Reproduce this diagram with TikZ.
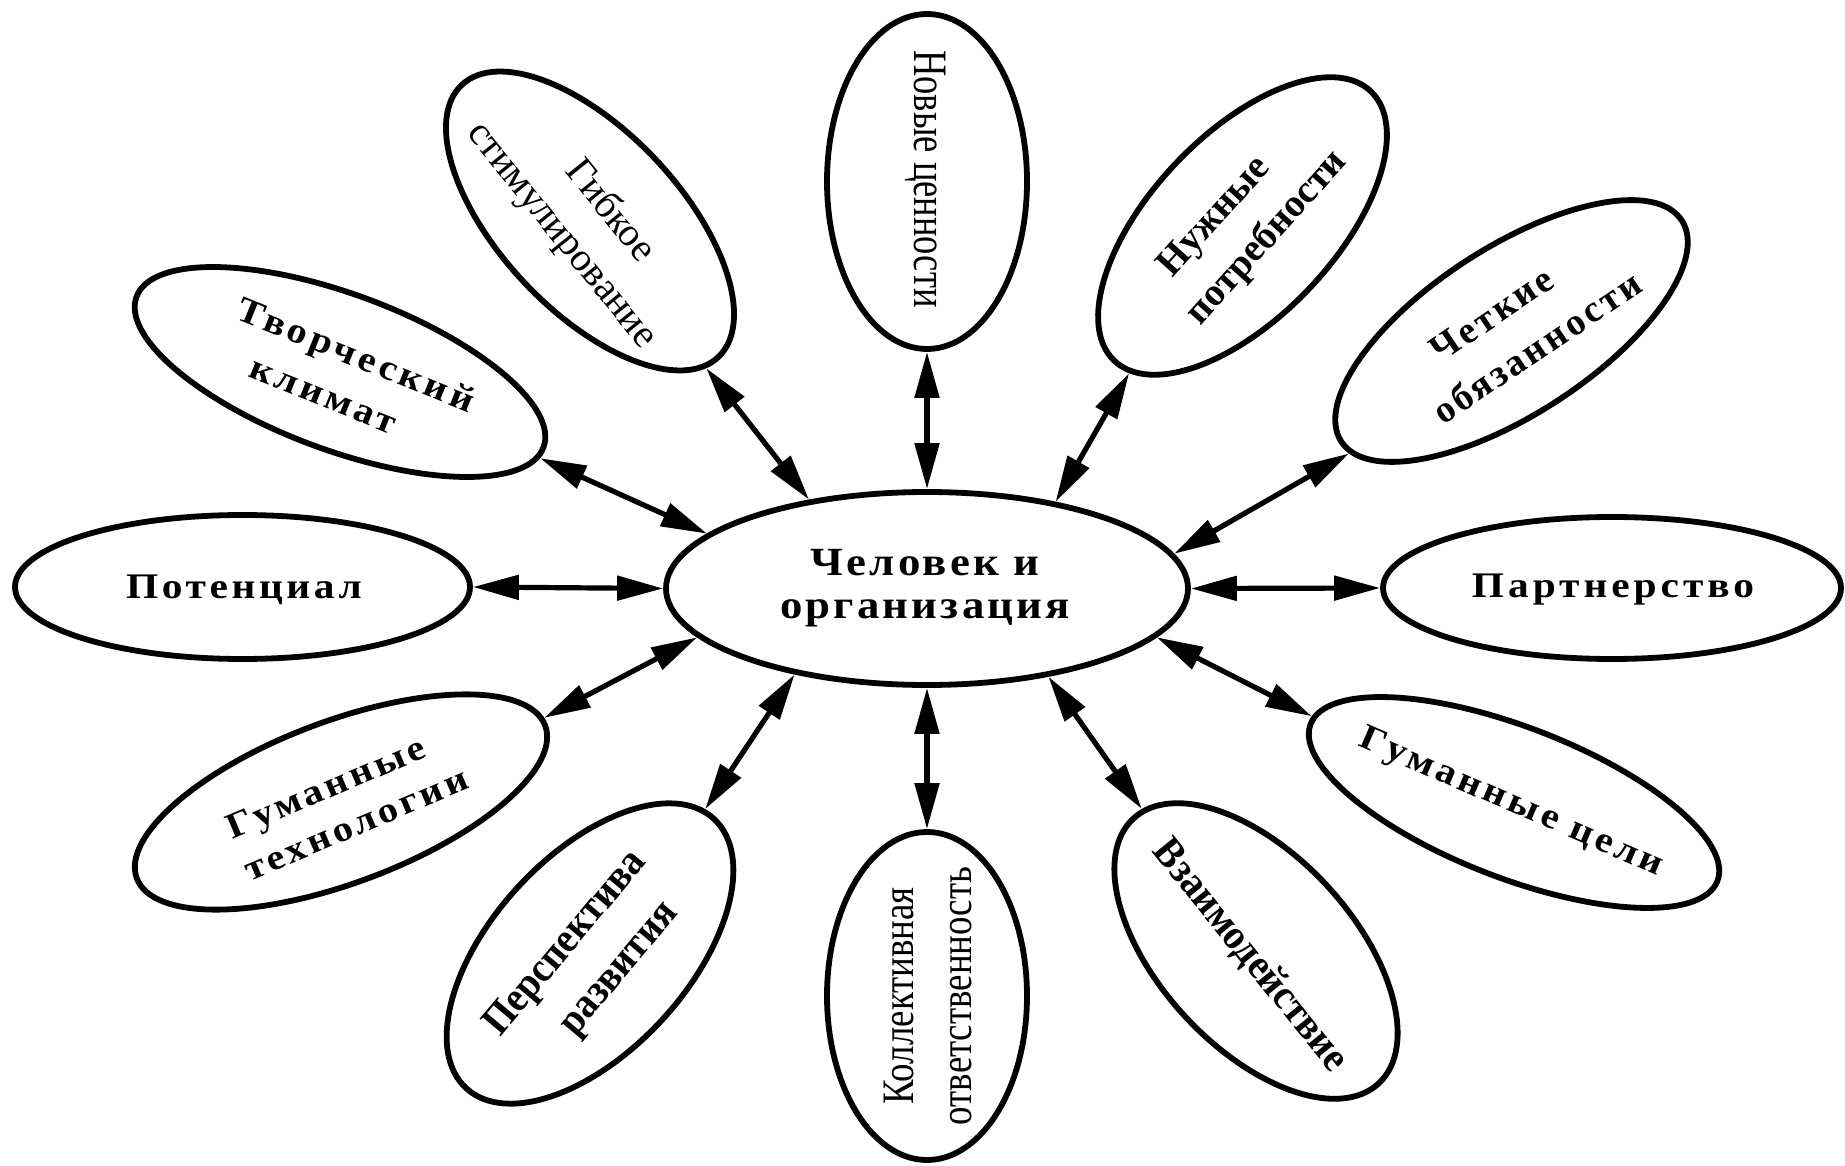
\documentclass[tikz,border=0pt]{standalone}
\usepackage{fontspec}
\setmainfont{Liberation Serif}
\usetikzlibrary{shapes.geometric,arrows.meta}
\begin{document}
\begin{tikzpicture}[x=1pt,y=-1pt,
  el/.style={draw, ellipse, line width=5.8pt, inner sep=0pt},
  lab/.style={inner sep=0pt, align=center, text=black},
  link/.style={line width=5.2pt, {Triangle[length=46pt,width=24pt]}-{Triangle[length=46pt,width=24pt]}}
]
\useasboundingbox (0,0) rectangle (1845,1166);

% shapes
\node[el, minimum width=522pt, minimum height=193pt] (c) at (927,588.5) {};
\node[el, minimum width=455pt, minimum height=144pt] (pot) at (242.5,587) {};
\node[el, minimum width=458pt, minimum height=142pt] (par) at (1612,588) {};
\node[el, minimum width=200pt, minimum height=335pt] (nov) at (927,181.5) {};
\node[el, minimum width=200pt, minimum height=328pt] (kol) at (927,996) {};
\node[el, minimum width=434pt, minimum height=156pt, rotate=-20.3] (tvo) at (340,372) {};
\node[el, minimum width=374pt, minimum height=180pt, rotate=-46.7] (gib) at (590,221) {};
\node[el, minimum width=372pt, minimum height=183pt, rotate=46.4] (nuz) at (1242.5,226) {};
\node[el, minimum width=406pt, minimum height=167pt, rotate=33] (che) at (1511.5,331) {};
\node[el, minimum width=436pt, minimum height=162pt, rotate=20.5] (gtx) at (341,802) {};
\node[el, minimum width=366pt, minimum height=196pt, rotate=47.4] (per) at (590,953.5) {};
\node[el, minimum width=361pt, minimum height=193pt, rotate=-47.2] (vza) at (1256,951) {};
\node[el, minimum width=436pt, minimum height=151pt, rotate=-21.1] (gc) at (1514,802.5) {};

% texts
\node[lab, font=\fontsize{40}{43}\selectfont\bfseries\addfontfeatures{FakeStretch=1.12,LetterSpace=8}] (cT) at (925,588) {Человек и\\организация};
\node[lab, font=\fontsize{36}{40}\selectfont\bfseries\addfontfeatures{FakeStretch=1.15,LetterSpace=10}] (potT) at (244,590) {Потенциал};
\node[lab, font=\fontsize{36}{40}\selectfont\bfseries\addfontfeatures{FakeStretch=1.15,LetterSpace=11}] (parT) at (1613,590) {Партнерство};
\node[lab, rotate=-90, font=\fontsize{48}{56}\selectfont\addfontfeatures{FakeStretch=0.76}] (novT) at (926,179) {Новые ценности};
\node[lab, rotate=90, font=\fontsize{45}{58}\selectfont\addfontfeatures{FakeStretch=0.82}] (kolT) at (927.5,996) {Коллективная\\ответственность};
\node[lab, rotate=-22, font=\fontsize{36}{49}\selectfont\bfseries\addfontfeatures{FakeStretch=1.12,LetterSpace=11}] (tvoT) at (347,377) {Творческий\\климат\hspace*{30pt}};
\node[lab, rotate=-51, font=\fontsize{40}{52.6}\selectfont] (gibT) at (582,219) {\hspace*{24pt}Гибкое\\стимулирование};
\node[lab, rotate=48, font=\fontsize{39}{53}\selectfont\bfseries] (nuzT) at (1248,221) {Нужные\hspace*{39pt}\\потребности};
\node[lab, rotate=34, font=\fontsize{38}{53}\selectfont\bfseries\addfontfeatures{LetterSpace=8}] (cheT) at (1522,326) {Четкие\hspace*{37pt}\\обязанности};
\node[lab, rotate=23, font=\fontsize{36}{45.5}\selectfont\bfseries\addfontfeatures{FakeStretch=1.12,LetterSpace=10}] (gtxT) at (347,803) {Гуманные\hspace*{27pt}\\технологии};
\node[lab, rotate=50, font=\fontsize{42}{57}\selectfont\bfseries\addfontfeatures{FakeStretch=0.92}] (perT) at (598,951) {Перспектива\hspace*{30pt}\\развития};
\node[lab, rotate=-51, font=\fontsize{42}{50}\selectfont\bfseries\addfontfeatures{FakeStretch=0.93}] (vzaT) at (1250,956) {Взаимодействие};
\node[lab, rotate=-23.4, font=\fontsize{36}{42}\selectfont\bfseries\addfontfeatures{FakeStretch=1.12,LetterSpace=11}] (gcT) at (1511,803.5) {Гуманные цели};

% connectors
\draw[link] (c.143.4) -- (gib.355);
\draw[link] (c.166.9) -- (tvo.357);
\draw[link] (c.west) -- (pot.east);
\draw[link] (c.192.7) -- (gtx.2);
\draw[link] (c.213.1) -- (per.4);
\draw[link] (c.south) -- (kol.north);
\draw[link] (c.324.4) -- (vza.176);
\draw[link] (c.348.7) -- (gc.178);
\draw[link] (c.east) -- (par.west);
\draw[link] (c.8.5) -- (che.184);
\draw[link] (c.34) -- (nuz.186);
\draw[link] (c.north) -- (nov.south);
\end{tikzpicture}
\end{document}
